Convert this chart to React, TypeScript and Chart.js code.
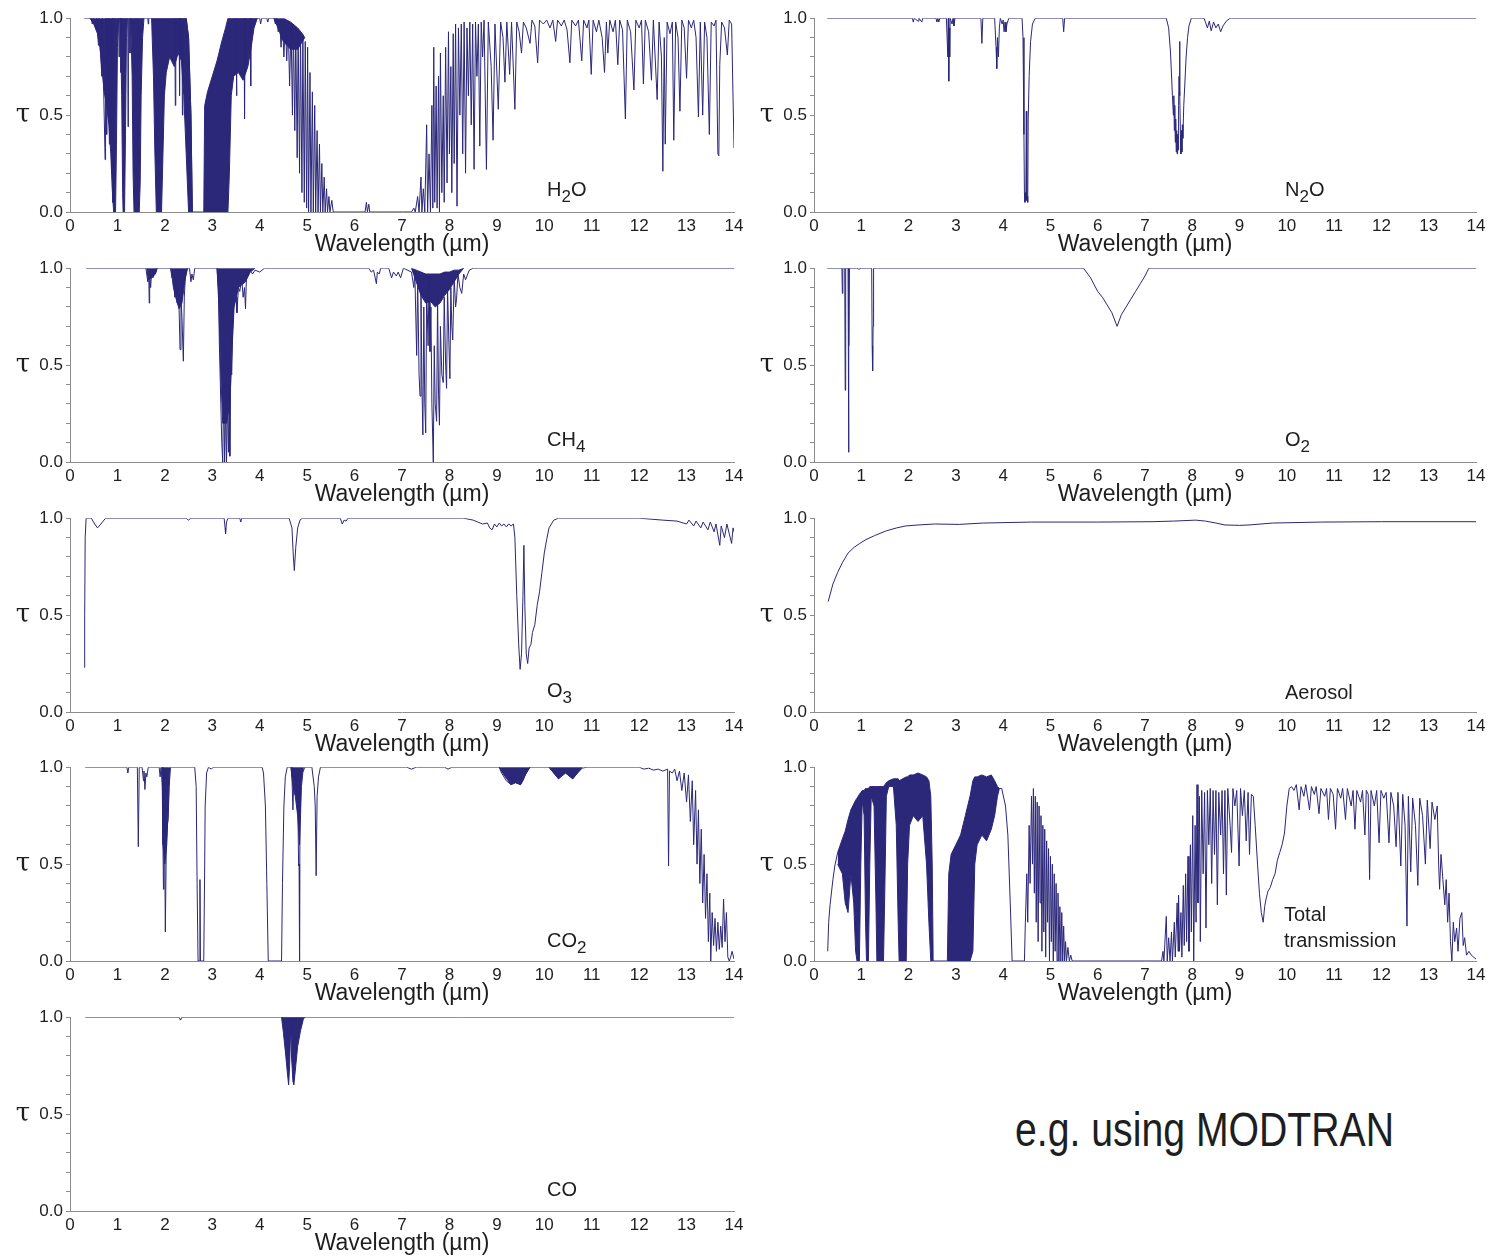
import React, { useEffect, useRef } from "react";
import { Chart, registerables } from "chart.js";

Chart.register(...registerables);

type Pt = [number, number | null];
type BandPt = [number, number, number];

// ---------- axis ticks ----------
const wavelengthTicks = [0, 1, 2, 3, 4, 5, 6, 7, 8, 9, 10, 11, 12, 13, 14];
const tauTicks = [0, 0.1, 0.2, 0.3, 0.4, 0.5, 0.6, 0.7, 0.8, 0.9, 1.0];
const tauLabelValues = [0, 0.5, 1];
const tauLabelTexts = ["0.0", "0.5", "1.0"];
const xTitle = "Wavelength (\u00b5m)";

// ---------- H2O ----------
const h2oTrace: Pt[] = [
  [0.3, 1], [0.45, 1], [0.47, 0.97], [0.49, 1], [0.55, 0.95], [0.56, 1], [0.6, 0.86], [0.61, 1],
  [0.67, 0.7], [0.68, 1], [0.74, 0.27], [0.75, 1], [0.77, 0.4], [0.78, 1], [0.8, 0.55], [0.81, 1],
  [0.83, 0.35], [0.84, 1], [0.88, 0.2], [0.89, 1], [0.9, 0.05], [0.91, 1], [1.03, 1], [1.035, 0.8],
  [1.04, 1], [1.07, 1], [1.075, 0.72], [1.08, 1], [1.22, 1], [1.225, 0.44], [1.23, 1], [1.26, 1],
  [1.265, 0.82], [1.27, 1], [1.64, 1], [1.65, 0.97], [1.66, 1], [2.21, 1], [2.22, 0.55], [2.23, 1],
  [2.3, 1], [2.31, 0.6], [2.32, 1], [2.36, 1], [2.37, 0.5], [2.38, 1], [2.45, 1], [2.5, 0.9],
  [2.55, 0.5], [2.58, 0], [2.82, 0], [2.82, null], [3.34, 1], [3.5, 1], [3.51, 0.6], [3.52, 1],
  [3.67, 1], [3.68, 0.48], [3.69, 1], [3.8, 1], [3.81, 0.65], [3.82, 1], [4.0, 1], [4.02, 0.97],
  [4.04, 1], [4.15, 1], [4.17, 0.98], [4.19, 1], [4.3, 1], [4.33, 0.97], [4.36, 1], [4.39, 0.93],
  [4.42, 0.99], [4.45, 0.85], [4.48, 0.99], [4.51, 0.8], [4.54, 0.99], [4.57, 0.78], [4.6, 0.98],
  [4.63, 0.65], [4.66, 0.97], [4.69, 0.5], [4.71, 0.96], [4.74, 0.42], [4.76, 0.95], [4.79, 0.28],
  [4.81, 0.93], [4.84, 0.2], [4.86, 0.92], [4.89, 0.1], [4.91, 0.9], [4.94, 0.05], [4.96, 0.88],
  [4.99, 0.02], [5.01, 0.85], [5.03, 0], [5.06, 0.72], [5.08, 0], [5.11, 0.62], [5.13, 0],
  [5.16, 0.55], [5.18, 0], [5.21, 0.42], [5.23, 0], [5.26, 0.35], [5.28, 0], [5.31, 0.25], [5.33, 0],
  [5.36, 0.18], [5.38, 0], [5.41, 0.12], [5.43, 0], [5.46, 0.08], [5.48, 0], [5.52, 0.06], [5.55, 0],
  [6.22, 0], [6.25, 0.05], [6.27, 0], [6.3, 0.04], [6.32, 0], [7.2, 0], [7.25, 0.02], [7.28, 0],
  [7.33, 0.08], [7.36, 0], [7.4, 0.18], [7.42, 0], [7.45, 0.12], [7.48, 0], [7.52, 0.45], [7.54, 0],
  [7.57, 0.3], [7.6, 0], [7.63, 0.55], [7.65, 0.02], [7.67, 0.85], [7.69, 0.05], [7.72, 0.65],
  [7.74, 0.02], [7.77, 0.7], [7.79, 0], [7.81, 0.82], [7.84, 0.1], [7.87, 0.6], [7.89, 0.05],
  [7.92, 0.85], [7.95, 0.15], [7.98, 0.93], [8.0, 0.3], [8.03, 0.75], [8.05, 0.1], [8.08, 0.92],
  [8.1, 0.25], [8.13, 0.97], [8.16, 0.03], [8.19, 0.95], [8.22, 0.5], [8.25, 0.97], [8.28, 0.3],
  [8.31, 0.98], [8.34, 0.2], [8.37, 0.95], [8.4, 0.6], [8.43, 0.98], [8.46, 0.45], [8.49, 0.97],
  [8.52, 0.22], [8.55, 0.98], [8.58, 0.7], [8.61, 0.97], [8.64, 0.34], [8.67, 0.98], [8.7, 0.8],
  [8.73, 0.99], [8.78, 0.22], [8.82, 0.98], [8.88, 0.75], [8.92, 0.37], [8.96, 0.97], [9.03, 0.53],
  [9.08, 0.98], [9.13, 0.9], [9.17, 0.67], [9.21, 0.98], [9.27, 0.71], [9.31, 0.98], [9.38, 0.53],
  [9.42, 0.98], [9.47, 0.93], [9.52, 0.82], [9.56, 0.98], [9.62, 0.95], [9.7, 0.87], [9.74, 0.99],
  [9.8, 0.96], [9.86, 0.77], [9.9, 0.99], [9.98, 0.97], [10.05, 0.99], [10.12, 0.95], [10.18, 0.99],
  [10.24, 0.88], [10.28, 0.99], [10.36, 0.96], [10.42, 0.99], [10.48, 0.94], [10.54, 0.77],
  [10.58, 0.99], [10.66, 0.96], [10.72, 0.99], [10.79, 0.78], [10.83, 0.99], [10.9, 0.95],
  [10.94, 0.99], [10.99, 0.71], [11.03, 0.99], [11.1, 0.93], [11.15, 0.99], [11.22, 0.9],
  [11.27, 0.72], [11.31, 0.98], [11.34, 0.82], [11.38, 0.99], [11.45, 0.93], [11.5, 0.99],
  [11.55, 0.76], [11.59, 0.99], [11.65, 0.94], [11.71, 0.48], [11.75, 0.99], [11.82, 0.93],
  [11.89, 0.63], [11.93, 0.99], [12.0, 0.95], [12.05, 0.99], [12.09, 0.66], [12.13, 0.99],
  [12.2, 0.93], [12.26, 0.68], [12.3, 0.99], [12.38, 0.58], [12.42, 0.98], [12.47, 0.8], [12.5, 0.21],
  [12.53, 0.9], [12.55, 0.35], [12.59, 0.98], [12.65, 0.92], [12.7, 0.98], [12.73, 0.37],
  [12.77, 0.98], [12.82, 0.9], [12.86, 0.52], [12.9, 0.99], [12.95, 0.95], [13.0, 0.69], [13.04, 0.99],
  [13.1, 0.95], [13.15, 0.99], [13.2, 0.9], [13.25, 0.49], [13.29, 0.98], [13.34, 0.5], [13.38, 0.98],
  [13.43, 0.9], [13.48, 0.4], [13.52, 0.98], [13.58, 0.96], [13.62, 0.99], [13.66, 0.3], [13.68, 0.29],
  [13.7, 0.76], [13.74, 0.98], [13.8, 0.95], [13.86, 0.81], [13.9, 0.99], [13.95, 0.97], [14.0, 0.33],
];
const h2oBandA: BandPt[] = [
  [0.42, 1, 1], [0.5, 1, 0.97], [0.58, 1, 0.92], [0.63, 1, 0.85], [0.68, 1, 0.72], [0.72, 1, 0.62],
  [0.77, 1, 0.55], [0.82, 1, 0.45], [0.86, 1, 0.3], [0.89, 1, 0.12], [0.92, 1, 0], [0.96, 1, 0],
  [0.98, 1, 0.35], [1.0, 1, 0.85], [1.02, 1, 0.97], [1.04, 1, 1],
];
const h2oBandB: BandPt[] = [
  [1.06, 1, 1], [1.09, 1, 0.6], [1.11, 1, 0.1], [1.12, 1, 0], [1.15, 1, 0], [1.17, 1, 0.4],
  [1.19, 1, 0.9], [1.21, 1, 1],
];
const h2oBandC: BandPt[] = [
  [1.28, 1, 1], [1.31, 1, 0.7], [1.33, 1, 0.2], [1.35, 1, 0], [1.46, 1, 0], [1.48, 1, 0.15],
  [1.5, 1, 0.6], [1.53, 1, 0.9], [1.56, 1, 1],
];
const h2oBandD: BandPt[] = [
  [1.72, 1, 1], [1.76, 1, 0.7], [1.79, 1, 0.3], [1.82, 1, 0], [1.93, 1, 0], [1.96, 1, 0.3],
  [1.99, 1, 0.6], [2.03, 1, 0.72], [2.1, 1, 0.8], [2.2, 1, 0.75], [2.28, 1, 0.82], [2.35, 1, 0.78],
  [2.4, 1, 0.6], [2.45, 1, 0.3], [2.5, 0.9, 0], [2.55, 0.5, 0], [2.58, 0, 0],
];
const h2oBandE: BandPt[] = [
  [2.82, 0, 0], [2.84, 0.55, 0], [2.9, 0.62, 0], [3.0, 0.7, 0], [3.1, 0.78, 0], [3.2, 0.88, 0],
  [3.28, 0.95, 0], [3.33, 1, 0], [3.36, 1, 0.2], [3.4, 1, 0.6], [3.45, 1, 0.7], [3.55, 1, 0.72],
  [3.65, 1, 0.68], [3.75, 1, 0.75], [3.82, 1, 0.85], [3.88, 1, 0.95], [3.95, 1, 1],
];
const h2oBandF: BandPt[] = [
  [4.3, 1, 1], [4.4, 1, 0.94], [4.5, 1, 0.88], [4.65, 0.98, 0.84], [4.8, 0.95, 0.84],
  [4.9, 0.92, 0.88], [4.95, 0.9, 0.9],
];

// ---------- N2O ----------
const n2oTrace: Pt[] = [
  [0.28, 1], [2.08, 1], [2.1, 0.98], [2.12, 1], [2.2, 0.985], [2.22, 1], [2.28, 0.98], [2.3, 1],
  [2.58, 1], [2.6, 0.98], [2.62, 1], [2.64, 0.98], [2.66, 1], [2.8, 1], [2.83, 0.8], [2.84, 1],
  [2.85, 0.675], [2.86, 0.95], [2.87, 0.8], [2.88, 1], [2.92, 0.97], [2.94, 1], [2.96, 0.96],
  [2.98, 1], [3.53, 1], [3.55, 0.87], [3.57, 1], [3.82, 1], [3.85, 0.85], [3.86, 0.78], [3.87, 0.74],
  [3.88, 0.9], [3.9, 0.8], [3.92, 0.95], [3.94, 1], [3.98, 0.97], [4.0, 0.99], [4.02, 0.93],
  [4.04, 0.98], [4.06, 0.93], [4.08, 0.97], [4.12, 1], [4.4, 1], [4.42, 0.9], [4.44, 0.4],
  [4.45, 0.1], [4.46, 0.05], [4.47, 0.1], [4.48, 0.06], [4.49, 0.52], [4.5, 0.06], [4.51, 0.08],
  [4.52, 0.05], [4.53, 0.48], [4.55, 0.7], [4.58, 0.88], [4.62, 0.97], [4.68, 1], [5.26, 1],
  [5.28, 0.93], [5.3, 1], [7.45, 1], [7.5, 0.95], [7.54, 0.82], [7.58, 0.6], [7.6, 0.5], [7.61, 0.6],
  [7.62, 0.42], [7.63, 0.55], [7.64, 0.36], [7.65, 0.48], [7.66, 0.31], [7.67, 0.42], [7.68, 0.3],
  [7.69, 0.4], [7.7, 0.32], [7.71, 0.55], [7.72, 0.7], [7.73, 0.88], [7.74, 0.6], [7.75, 0.4],
  [7.76, 0.3], [7.77, 0.42], [7.78, 0.31], [7.79, 0.45], [7.8, 0.38], [7.82, 0.55], [7.84, 0.65],
  [7.87, 0.8], [7.9, 0.9], [7.93, 0.96], [7.98, 1], [8.25, 1], [8.32, 0.95], [8.36, 0.985],
  [8.4, 0.935], [8.45, 0.98], [8.5, 0.95], [8.55, 0.97], [8.6, 0.93], [8.65, 0.96], [8.72, 0.985],
  [8.8, 1], [14, 1],
];

// ---------- CH4 ----------
const ch4Trace: Pt[] = [
  [0.34, 1], [1.6, 1], [1.64, 0.93], [1.66, 0.98], [1.67, 0.82], [1.68, 0.97], [1.7, 0.9], [1.72, 0.97],
  [1.75, 0.95], [1.78, 0.98], [1.8, 0.97], [1.83, 1], [2.12, 1], [2.15, 0.95], [2.18, 0.98],
  [2.21, 0.85], [2.23, 0.95], [2.26, 0.82], [2.28, 0.9], [2.3, 0.79], [2.32, 0.58], [2.34, 0.85],
  [2.36, 0.75], [2.39, 0.52], [2.41, 0.85], [2.43, 0.95], [2.46, 0.98], [2.48, 1], [2.52, 1],
  [2.55, 0.93], [2.57, 0.97], [2.6, 0.94], [2.63, 1], [3.1, 1], [3.13, 0.9], [3.15, 0.6], [3.18, 0.3],
  [3.2, 0.1], [3.22, 0.0], [3.24, 0.4], [3.26, 0.0], [3.28, 0.3], [3.3, 0.0], [3.32, 0.35],
  [3.34, 0.05], [3.36, 0.4], [3.37, 0.03], [3.39, 0.5], [3.41, 0.45], [3.43, 0.7], [3.45, 0.8],
  [3.48, 0.9], [3.5, 0.85], [3.52, 0.77], [3.55, 0.9], [3.58, 0.88], [3.62, 0.95], [3.65, 0.85],
  [3.68, 0.9], [3.7, 0.79], [3.72, 0.95], [3.76, 0.97], [3.8, 0.99], [3.85, 0.97], [3.9, 0.99],
  [4.0, 0.98], [4.1, 1], [6.3, 1], [6.35, 0.98], [6.4, 0.99], [6.46, 0.92], [6.48, 0.98],
  [6.52, 0.97], [6.55, 1], [6.72, 1], [6.78, 0.95], [6.82, 0.98], [6.88, 0.96], [6.92, 0.98],
  [6.97, 0.95], [7.03, 1], [7.2, 0.98], [7.25, 0.9], [7.27, 0.98], [7.31, 0.55], [7.33, 0.95],
  [7.36, 0.45], [7.38, 0.34], [7.4, 0.9], [7.42, 0.4], [7.44, 0.14], [7.46, 0.8], [7.48, 0.3],
  [7.5, 0.15], [7.52, 0.9], [7.55, 0.6], [7.57, 0.95], [7.59, 0.57], [7.61, 0.8], [7.63, 0.3],
  [7.66, 0.0], [7.68, 0.6], [7.7, 0.3], [7.73, 0.21], [7.75, 0.85], [7.77, 0.35], [7.79, 0.19],
  [7.81, 0.7], [7.84, 0.45], [7.87, 0.41], [7.89, 0.85], [7.92, 0.5], [7.94, 0.38], [7.96, 0.9],
  [7.99, 0.6], [8.01, 0.43], [8.03, 0.9], [8.05, 0.7], [8.07, 0.63], [8.1, 0.95], [8.13, 0.8],
  [8.15, 0.84], [8.18, 0.97], [8.22, 0.9], [8.26, 0.87], [8.3, 0.97], [8.34, 0.94], [8.37, 0.96],
  [8.42, 0.99], [8.5, 1], [14, 1],
];
const ch4BandA: BandPt[] = [[1.62, 1, 1], [1.65, 1, 0.94], [1.72, 1, 0.95], [1.8, 1, 0.97], [1.84, 1, 1]];
const ch4BandB: BandPt[] = [
  [2.13, 1, 1], [2.18, 1, 0.9], [2.25, 1, 0.83], [2.3, 1, 0.79], [2.36, 1, 0.82], [2.42, 1, 0.93],
  [2.47, 1, 1],
];
const ch4BandC: BandPt[] = [
  [3.1, 1, 1], [3.14, 1, 0.8], [3.18, 1, 0.45], [3.22, 1, 0.2], [3.3, 1, 0.2], [3.37, 1, 0.3],
  [3.42, 1, 0.6], [3.46, 1, 0.8], [3.55, 1, 0.9], [3.7, 1, 0.93], [3.8, 1, 0.98], [3.9, 1, 1],
];
const ch4BandD: BandPt[] = [
  [7.2, 1, 1], [7.3, 0.99, 0.93], [7.4, 0.98, 0.86], [7.5, 0.97, 0.82], [7.6, 0.97, 0.83],
  [7.7, 0.97, 0.8], [7.8, 0.97, 0.82], [7.9, 0.98, 0.86], [8.0, 0.98, 0.89], [8.1, 0.99, 0.93],
  [8.2, 0.99, 0.97], [8.3, 1, 1],
];

// ---------- O2 ----------
const o2Trace: Pt[] = [
  [0.28, 1], [0.59, 1], [0.6, 0.87], [0.61, 1], [0.65, 1], [0.66, 0.37], [0.67, 1], [0.72, 1],
  [0.73, 0.05], [0.74, 0.6], [0.75, 1], [0.9, 1], [0.95, 0.995], [1.0, 1], [1.22, 1], [1.23, 0.6],
  [1.24, 0.47], [1.25, 0.7], [1.26, 1], [5.7, 1], [5.85, 0.95], [6.0, 0.88], [6.1, 0.85],
  [6.2, 0.81], [6.3, 0.77], [6.41, 0.7], [6.5, 0.76], [6.6, 0.8], [6.7, 0.84], [6.8, 0.88],
  [6.9, 0.92], [7.0, 0.96], [7.08, 1], [14, 1],
];

// ---------- O3 ----------
const o3Trace: Pt[] = [
  [0.3, 0.23], [0.31, 0.5], [0.32, 0.9], [0.34, 1], [0.45, 1], [0.52, 0.97], [0.58, 0.95],
  [0.65, 0.97], [0.75, 1], [2.45, 1], [2.5, 0.99], [2.55, 1], [3.25, 1], [3.27, 0.95], [3.28, 0.92],
  [3.3, 0.98], [3.33, 1], [3.58, 1], [3.6, 0.98], [3.62, 1], [4.62, 1], [4.68, 0.95], [4.71, 0.8],
  [4.73, 0.73], [4.76, 0.85], [4.8, 0.95], [4.85, 0.99], [4.9, 1], [5.7, 1], [5.74, 0.97],
  [5.78, 0.99], [5.82, 0.985], [5.86, 1], [8.3, 1], [8.5, 0.99], [8.6, 0.98], [8.7, 0.97],
  [8.8, 0.975], [8.85, 0.95], [8.9, 0.94], [8.95, 0.97], [9.0, 0.955], [9.05, 0.975], [9.1, 0.96],
  [9.15, 0.97], [9.2, 0.955], [9.25, 0.97], [9.3, 0.96], [9.35, 0.97], [9.38, 0.9], [9.42, 0.6],
  [9.46, 0.35], [9.49, 0.22], [9.52, 0.3], [9.55, 0.6], [9.57, 0.86], [9.59, 0.55], [9.62, 0.3],
  [9.65, 0.25], [9.68, 0.33], [9.72, 0.35], [9.75, 0.41], [9.8, 0.45], [9.85, 0.55], [9.9, 0.62],
  [9.95, 0.72], [10.0, 0.82], [10.05, 0.89], [10.1, 0.95], [10.2, 0.99], [10.3, 1], [12.0, 1],
  [12.5, 0.99], [12.8, 0.985], [13.0, 0.97], [13.05, 0.99], [13.15, 0.96], [13.2, 0.985],
  [13.3, 0.95], [13.35, 0.98], [13.45, 0.94], [13.5, 0.98], [13.58, 0.93], [13.62, 0.97],
  [13.7, 0.86], [13.73, 0.96], [13.8, 0.9], [13.85, 0.97], [13.95, 0.87], [13.98, 0.95], [14.0, 0.93],
];

// ---------- Aerosol ----------
const aerosolTrace: Pt[] = [
  [0.3, 0.57], [0.4, 0.66], [0.5, 0.72], [0.6, 0.77], [0.72, 0.82], [0.85, 0.85], [0.97, 0.87],
  [1.1, 0.89], [1.28, 0.91], [1.53, 0.935], [1.75, 0.95], [1.94, 0.96], [2.2, 0.965], [2.55, 0.97],
  [3.07, 0.968], [3.58, 0.975], [4.6, 0.98], [6.0, 0.98], [7.15, 0.982], [7.6, 0.985], [8.07, 0.99],
  [8.28, 0.985], [8.5, 0.975], [8.69, 0.965], [9.0, 0.963], [9.2, 0.965], [9.7, 0.975],
  [10.73, 0.98], [12.0, 0.982], [14, 0.982],
];

// ---------- CO2 ----------
const co2Trace: Pt[] = [
  [0.32, 1], [1.2, 1], [1.22, 0.97], [1.24, 1], [1.42, 1], [1.44, 0.59], [1.46, 1], [1.52, 1],
  [1.55, 0.93], [1.56, 0.98], [1.58, 0.885], [1.6, 0.97], [1.62, 0.95], [1.65, 1], [1.88, 1],
  [1.9, 0.95], [1.92, 1], [1.95, 0.9], [1.97, 0.37], [1.98, 0.7], [2.0, 0.5], [2.01, 0.15],
  [2.03, 0.6], [2.05, 0.7], [2.07, 0.73], [2.09, 0.9], [2.12, 1], [2.63, 1], [2.66, 0.9], [2.68, 0.4],
  [2.7, 0], [2.73, 0], [2.74, 0.42], [2.75, 0], [2.82, 0], [2.84, 0.5], [2.85, 0.8], [2.88, 0.97],
  [2.92, 1], [2.98, 0.99], [3.02, 1], [4.05, 1], [4.08, 0.97], [4.12, 0.8], [4.15, 0.4], [4.18, 0],
  [4.46, 0], [4.48, 0.4], [4.51, 0.8], [4.54, 0.95], [4.58, 1], [4.66, 1], [4.68, 0.95], [4.7, 0.78],
  [4.72, 0.95], [4.75, 0.92], [4.78, 0.97], [4.8, 0.9], [4.82, 0.49], [4.83, 0.5], [4.84, 0],
  [4.85, 0.9], [4.88, 0.97], [4.92, 0.98], [4.95, 1], [5.1, 1], [5.15, 0.9], [5.17, 0.8],
  [5.19, 0.44], [5.21, 0.85], [5.24, 0.95], [5.28, 1], [7.1, 1], [7.2, 0.99], [7.3, 1], [7.9, 1],
  [7.97, 0.99], [8.05, 1], [9.05, 1], [9.1, 0.97], [9.2, 0.93], [9.3, 0.91], [9.35, 0.96],
  [9.4, 0.92], [9.5, 0.91], [9.55, 0.93], [9.6, 0.96], [9.65, 0.99], [9.7, 1], [10.1, 1],
  [10.2, 0.97], [10.3, 0.94], [10.4, 0.98], [10.5, 0.96], [10.6, 0.94], [10.7, 0.97], [10.8, 0.995],
  [10.9, 1], [12.0, 1], [12.1, 0.99], [12.2, 0.995], [12.3, 0.985], [12.4, 0.99], [12.5, 0.98],
  [12.6, 0.99], [12.62, 0.49], [12.64, 0.98], [12.7, 0.97], [12.75, 0.99], [12.8, 0.93], [12.85, 0.98],
  [12.9, 0.88], [12.95, 0.97], [13.0, 0.82], [13.04, 0.96], [13.08, 0.72], [13.12, 0.93], [13.15, 0.6],
  [13.19, 0.88], [13.22, 0.5], [13.25, 0.78], [13.28, 0.4], [13.31, 0.68], [13.34, 0.3], [13.37, 0.55],
  [13.4, 0.22], [13.43, 0.45], [13.46, 0.1], [13.49, 0.35], [13.51, 0], [13.54, 0.25], [13.57, 0.08],
  [13.6, 0.22], [13.63, 0.05], [13.66, 0.2], [13.69, 0.06], [13.72, 0.18], [13.75, 0.07],
  [13.78, 0.32], [13.81, 0.1], [13.84, 0.25], [13.87, 0.02], [13.9, 0.0], [13.93, 0.02],
  [13.96, 0.05], [14.0, 0.01],
];
const co2BandA: BandPt[] = [[1.94, 1, 1], [1.96, 1, 0.6], [2.0, 1, 0.5], [2.04, 1, 0.6], [2.08, 1, 0.85], [2.1, 1, 1]];
const co2BandB: BandPt[] = [[4.66, 1, 1], [4.7, 1, 0.9], [4.75, 1, 0.85], [4.8, 1, 0.75], [4.84, 1, 0.6], [4.88, 1, 0.9], [4.92, 1, 1]];
const co2BandC: BandPt[] = [[9.05, 1, 1], [9.15, 1, 0.96], [9.3, 1, 0.91], [9.4, 1, 0.92], [9.5, 1, 0.91], [9.6, 1, 0.96], [9.7, 1, 1]];
const co2BandD: BandPt[] = [[10.1, 1, 1], [10.3, 1, 0.94], [10.45, 1, 0.97], [10.6, 1, 0.94], [10.8, 1, 1]];

// ---------- Total transmission ----------
const totalTrace: Pt[] = [
  [0.29, 0.05], [0.31, 0.2], [0.34, 0.29], [0.4, 0.42], [0.44, 0.49], [0.5, 0.56], [0.5, null],
  [2.52, 0], [2.82, 0], [2.82, null], [3.92, 0.89], [3.97, 0.89], [4.05, 0.8], [4.1, 0.65],
  [4.15, 0.3], [4.19, 0], [4.45, 0], [4.47, 0.2], [4.5, 0.45], [4.52, 0.2], [4.55, 0.7], [4.57, 0.4],
  [4.6, 0.85], [4.62, 0.5], [4.64, 0.89], [4.66, 0.35], [4.68, 0.85], [4.7, 0.2], [4.72, 0.82],
  [4.74, 0.1], [4.76, 0.8], [4.78, 0.3], [4.8, 0.75], [4.82, 0.05], [4.84, 0.7], [4.86, 0.15],
  [4.88, 0.68], [4.9, 0.02], [4.92, 0.62], [4.94, 0.2], [4.96, 0.58], [4.98, 0], [5.0, 0.54],
  [5.02, 0.1], [5.04, 0.5], [5.06, 0], [5.08, 0.45], [5.1, 0.05], [5.12, 0.4], [5.14, 0],
  [5.16, 0.35], [5.18, 0], [5.2, 0.28], [5.22, 0], [5.24, 0.25], [5.26, 0], [5.28, 0.18], [5.3, 0],
  [5.32, 0.1], [5.34, 0], [5.37, 0.07], [5.4, 0], [5.43, 0.03], [5.46, 0], [7.35, 0], [7.38, 0.05],
  [7.4, 0], [7.45, 0.23], [7.47, 0], [7.5, 0.12], [7.53, 0.0], [7.56, 0.15], [7.58, 0], [7.62, 0.2],
  [7.64, 0.02], [7.68, 0.3], [7.7, 0.05], [7.71, 0.34], [7.73, 0.05], [7.76, 0.25], [7.78, 0.02],
  [7.81, 0.39], [7.83, 0.08], [7.86, 0.45], [7.88, 0.1], [7.91, 0.54], [7.93, 0.05], [7.96, 0.6],
  [7.98, 0.15], [8.01, 0.75], [8.03, 0.0], [8.06, 0.7], [8.08, 0.2], [8.1, 0.91], [8.12, 0.3],
  [8.15, 0.85], [8.17, 0.1], [8.2, 0.88], [8.23, 0.45], [8.26, 0.87], [8.29, 0.17], [8.32, 0.88],
  [8.35, 0.6], [8.38, 0.89], [8.41, 0.4], [8.44, 0.88], [8.47, 0.55], [8.5, 0.88], [8.53, 0.29],
  [8.56, 0.87], [8.6, 0.65], [8.63, 0.88], [8.66, 0.45], [8.69, 0.88], [8.72, 0.34], [8.75, 0.89],
  [8.8, 0.7], [8.83, 0.56], [8.86, 0.89], [8.9, 0.8], [8.94, 0.88], [8.99, 0.49], [9.02, 0.89],
  [9.06, 0.75], [9.1, 0.88], [9.14, 0.62], [9.18, 0.87], [9.21, 0.55], [9.25, 0.86], [9.29, 0.85],
  [9.33, 0.7], [9.38, 0.5], [9.42, 0.35], [9.46, 0.25], [9.5, 0.2], [9.53, 0.28], [9.56, 0.32],
  [9.6, 0.36], [9.65, 0.38], [9.7, 0.42], [9.75, 0.45], [9.8, 0.52], [9.85, 0.56], [9.9, 0.6],
  [9.95, 0.66], [10.0, 0.8], [10.05, 0.89], [10.1, 0.9], [10.15, 0.88], [10.2, 0.91], [10.26, 0.78],
  [10.3, 0.9], [10.36, 0.85], [10.4, 0.91], [10.48, 0.78], [10.52, 0.9], [10.58, 0.86], [10.62, 0.9],
  [10.68, 0.76], [10.72, 0.89], [10.8, 0.85], [10.84, 0.89], [10.88, 0.73], [10.92, 0.89],
  [10.98, 0.86], [11.03, 0.68], [11.07, 0.89], [11.14, 0.84], [11.18, 0.89], [11.24, 0.73],
  [11.28, 0.89], [11.36, 0.8], [11.4, 0.88], [11.44, 0.68], [11.48, 0.88], [11.56, 0.82], [11.6, 0.88],
  [11.65, 0.65], [11.68, 0.88], [11.72, 0.86], [11.75, 0.42], [11.78, 0.88], [11.85, 0.8], [11.9, 0.88],
  [11.95, 0.61], [11.99, 0.88], [12.05, 0.84], [12.1, 0.87], [12.16, 0.61], [12.2, 0.87], [12.26, 0.8],
  [12.31, 0.59], [12.35, 0.87], [12.41, 0.49], [12.45, 0.86], [12.5, 0.7], [12.54, 0.18], [12.57, 0.85],
  [12.62, 0.46], [12.66, 0.84], [12.72, 0.7], [12.77, 0.39], [12.81, 0.84], [12.87, 0.75], [12.93, 0.5],
  [12.97, 0.83], [13.03, 0.58], [13.07, 0.82], [13.13, 0.73], [13.18, 0.8], [13.21, 0.5], [13.23, 0.37],
  [13.26, 0.55], [13.3, 0.42], [13.34, 0.29], [13.37, 0.42], [13.4, 0.2], [13.43, 0.35], [13.46, 0.1],
  [13.49, 0], [13.52, 0.2], [13.55, 0.1], [13.59, 0.17], [13.62, 0.05], [13.66, 0.22], [13.7, 0.25],
  [13.73, 0.08], [13.76, 0.12], [13.8, 0.03], [13.85, 0.05], [13.9, 0.03], [13.95, 0.02], [14.0, 0.01],
];
const totalBandA: BandPt[] = [
  [0.5, 0.56, 0.5], [0.6, 0.63, 0.45], [0.66, 0.67, 0.3], [0.72, 0.73, 0.25], [0.78, 0.78, 0.45],
  [0.84, 0.81, 0.3], [0.88, 0.83, 0.05], [0.91, 0.84, 0], [0.96, 0.86, 0], [0.99, 0.87, 0.5],
  [1.02, 0.88, 0.83], [1.06, 0.88, 0.75], [1.09, 0.89, 0.2], [1.11, 0.89, 0], [1.15, 0.89, 0],
  [1.18, 0.9, 0.5], [1.21, 0.9, 0.85], [1.27, 0.9, 0.8], [1.31, 0.9, 0.3], [1.33, 0.9, 0],
  [1.47, 0.9, 0], [1.5, 0.91, 0.4], [1.53, 0.92, 0.85], [1.58, 0.93, 0.9], [1.68, 0.94, 0.9],
  [1.74, 0.94, 0.7], [1.78, 0.94, 0.2], [1.8, 0.93, 0], [1.95, 0.95, 0], [1.98, 0.95, 0.5],
  [2.02, 0.96, 0.7], [2.1, 0.96, 0.75], [2.2, 0.97, 0.72], [2.3, 0.96, 0.75], [2.38, 0.95, 0.5],
  [2.43, 0.93, 0.2], [2.47, 0.85, 0], [2.5, 0.5, 0], [2.52, 0, 0],
];
const totalBandB: BandPt[] = [
  [2.82, 0, 0], [2.85, 0.45, 0], [2.9, 0.55, 0], [3.0, 0.6, 0], [3.1, 0.65, 0], [3.2, 0.75, 0],
  [3.3, 0.85, 0], [3.36, 0.93, 0.05], [3.4, 0.95, 0.5], [3.45, 0.95, 0.6], [3.55, 0.96, 0.65],
  [3.65, 0.95, 0.62], [3.75, 0.96, 0.68], [3.82, 0.93, 0.75], [3.88, 0.9, 0.85], [3.92, 0.89, 0.89],
];

// ---------- CO ----------
const coTrace: Pt[] = [[0.32, 1], [2.3, 1], [2.33, 0.985], [2.36, 1], [14, 1]];
const coBandA: BandPt[] = [
  [4.46, 1, 1], [4.5, 1, 0.92], [4.55, 1, 0.8], [4.58, 1, 0.72], [4.61, 1, 0.65], [4.63, 1, 0.75],
  [4.655, 1, 0.97], [4.67, 1, 0.8], [4.7, 1, 0.67], [4.72, 1, 0.65], [4.76, 1, 0.75], [4.8, 1, 0.85],
  [4.86, 1, 0.93], [4.92, 1, 0.99], [4.95, 1, 1],
];

// ---------- layout & style ----------
const LINE_COLOR = "#2b2779";
const FILL_COLOR = "#2b2779";
const AXIS_COLOR = "#8c8c8c";
const TEXT_COLOR = "#1e1e1e";
const SANS = "'Liberation Sans', Arial, Helvetica, sans-serif";

const COL_LEFT = [70, 814];
const COL_WIDTH = [664, 662];
const ROW_TOP = [17, 267, 517, 766, 1016];
const PLOT_H = 195;
const PAD_TOP = 12;
const PAD_RIGHT = 14;
const AXIS_W = 70;
const AXIS_H = 48;

interface PanelDef {
  key: string;
  col: number;
  row: number;
  trace: Pt[];
  bands: BandPt[][];
}

const panels: PanelDef[] = [
  { key: "h2o", col: 0, row: 0, trace: h2oTrace, bands: [h2oBandA, h2oBandB, h2oBandC, h2oBandD, h2oBandE, h2oBandF] },
  { key: "n2o", col: 1, row: 0, trace: n2oTrace, bands: [] },
  { key: "ch4", col: 0, row: 1, trace: ch4Trace, bands: [ch4BandA, ch4BandB, ch4BandC, ch4BandD] },
  { key: "o2", col: 1, row: 1, trace: o2Trace, bands: [] },
  { key: "o3", col: 0, row: 2, trace: o3Trace, bands: [] },
  { key: "aerosol", col: 1, row: 2, trace: aerosolTrace, bands: [] },
  { key: "co2", col: 0, row: 3, trace: co2Trace, bands: [co2BandA, co2BandB, co2BandC, co2BandD] },
  { key: "total", col: 1, row: 3, trace: totalTrace, bands: [totalBandA, totalBandB] },
  { key: "co", col: 0, row: 4, trace: coTrace, bands: [coBandA] },
];

function tauLabel(v: number): string {
  for (let i = 0; i < tauLabelValues.length; i++) {
    if (Math.abs(v - tauLabelValues[i]) < 1e-6) return tauLabelTexts[i];
  }
  return "";
}

function Panel({ def }: { def: PanelDef }) {
  const ref = useRef<HTMLCanvasElement | null>(null);
  const width = AXIS_W + COL_WIDTH[def.col] + PAD_RIGHT;
  const height = PAD_TOP + PLOT_H + AXIS_H;
  const left = COL_LEFT[def.col] - AXIS_W;
  const top = ROW_TOP[def.row] - PAD_TOP;

  useEffect(() => {
    if (!ref.current) return;
    const datasets: any[] = [];
    datasets.push({
      data: def.trace.map(([x, y]) => ({ x, y })),
      borderColor: LINE_COLOR,
      borderWidth: 1,
      pointRadius: 0,
      fill: false,
      spanGaps: false,
      tension: 0,
    });
    def.bands.forEach((band) => {
      const topIndex = datasets.length;
      datasets.push({
        data: band.map(([x, t]) => ({ x, y: t })),
        borderColor: LINE_COLOR,
        borderWidth: 1,
        pointRadius: 0,
        fill: false,
        tension: 0,
      });
      datasets.push({
        data: band.map(([x, , b]) => ({ x, y: b })),
        borderColor: LINE_COLOR,
        borderWidth: 1,
        pointRadius: 0,
        fill: topIndex,
        backgroundColor: FILL_COLOR,
        tension: 0,
      });
    });

    const chart = new Chart(ref.current, {
      type: "line",
      data: { datasets },
      options: {
        animation: false,
        responsive: false,
        events: [],
        layout: { padding: { top: PAD_TOP, right: PAD_RIGHT, left: 0, bottom: 0 } },
        plugins: {
          legend: { display: false },
          tooltip: { enabled: false },
          title: { display: false },
        },
        scales: {
          x: {
            type: "linear",
            min: 0,
            max: 14,
            afterFit: (s: any) => {
              s.height = AXIS_H;
            },
            afterBuildTicks: (s: any) => {
              s.ticks = wavelengthTicks.map((v) => ({ value: v }));
            },
            grid: { display: false, drawTicks: false },
            border: { display: true, color: AXIS_COLOR, width: 1 },
            ticks: {
              autoSkip: false,
              maxRotation: 0,
              padding: 4,
              color: TEXT_COLOR,
              font: { family: SANS, size: 17 },
              callback: (v: any) => String(v),
            },
            title: {
              display: true,
              text: xTitle,
              color: TEXT_COLOR,
              font: { family: SANS, size: 23 },
              padding: { top: 0, bottom: 2 },
            },
          },
          y: {
            type: "linear",
            min: 0,
            max: 1,
            afterFit: (s: any) => {
              s.width = AXIS_W;
            },
            afterBuildTicks: (s: any) => {
              s.ticks = tauTicks.map((v) => ({ value: v }));
            },
            grid: { drawOnChartArea: false, drawTicks: true, tickLength: 4, color: AXIS_COLOR },
            border: { display: true, color: AXIS_COLOR, width: 1 },
            ticks: {
              autoSkip: false,
              padding: 3,
              color: TEXT_COLOR,
              font: { family: SANS, size: 17 },
              callback: (v: any) => tauLabel(Number(v)),
            },
          },
        },
      } as any,
    });
    return () => chart.destroy();
  }, [def]);

  return (
    <canvas
      ref={ref}
      width={width}
      height={height}
      style={{ position: "absolute", left, top, width, height, display: "block" }}
    />
  );
}

const subStyle: React.CSSProperties = { fontSize: 17, position: "relative", top: 6 };

function Label({ x, baseline, children }: { x: number; baseline: number; children: React.ReactNode }) {
  return (
    <div
      style={{
        position: "absolute",
        left: x,
        top: baseline - 17,
        fontFamily: SANS,
        fontSize: 20,
        lineHeight: "20px",
        color: TEXT_COLOR,
        whiteSpace: "nowrap",
      }}
    >
      {children}
    </div>
  );
}

export default function App() {
  return (
    <div
      style={{
        position: "absolute",
        left: 0,
        top: 0,
        width: 1497,
        height: 1258,
        background: "#ffffff",
        overflow: "hidden",
      }}
    >
      {panels.map((p) => (
        <Panel key={p.key} def={p} />
      ))}
      {panels.map((p) => (
        <div
          key={"tau-" + p.key}
          style={{
            position: "absolute",
            left: p.col === 0 ? 8 : 752,
            width: 30,
            textAlign: "center",
            top: ROW_TOP[p.row] + 83,
            fontFamily: "'DejaVu Serif', 'Liberation Serif', serif",
            fontSize: 26,
            lineHeight: "26px",
            color: TEXT_COLOR,
          }}
        >
          {"\u03c4"}
        </div>
      ))}
      <Label x={547} baseline={196}>
        H<span style={subStyle}>2</span>O
      </Label>
      <Label x={1285} baseline={196}>
        N<span style={subStyle}>2</span>O
      </Label>
      <Label x={547} baseline={446}>
        CH<span style={subStyle}>4</span>
      </Label>
      <Label x={1285} baseline={446}>
        O<span style={subStyle}>2</span>
      </Label>
      <Label x={547} baseline={697}>
        O<span style={subStyle}>3</span>
      </Label>
      <Label x={1285} baseline={699}>
        Aerosol
      </Label>
      <Label x={547} baseline={947}>
        CO<span style={subStyle}>2</span>
      </Label>
      <Label x={1284} baseline={921}>
        Total
      </Label>
      <Label x={1284} baseline={947}>
        transmission
      </Label>
      <Label x={547} baseline={1196}>
        CO
      </Label>
      <div
        style={{
          position: "absolute",
          left: 1015,
          top: 1105,
          fontFamily: SANS,
          fontSize: 49,
          lineHeight: "49px",
          color: TEXT_COLOR,
          whiteSpace: "nowrap",
          transform: "scaleX(0.8)",
          transformOrigin: "0 0",
        }}
      >
        e.g. using MODTRAN
      </div>
    </div>
  );
}
